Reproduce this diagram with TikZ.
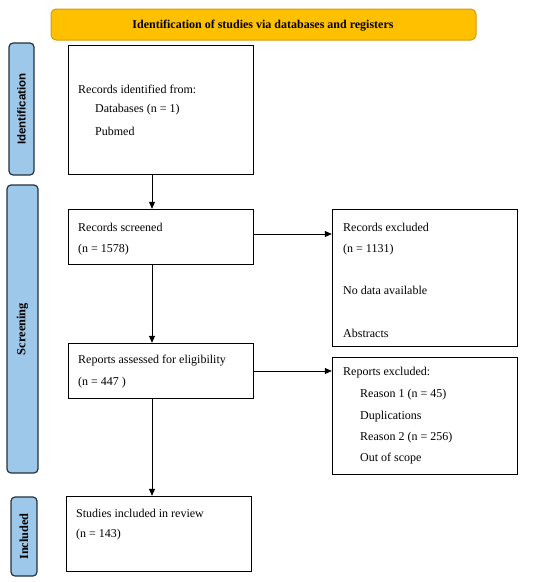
\documentclass[tikz,border=0pt]{standalone}
\usepackage{fontspec}
\setmainfont{Liberation Serif}
\newfontfamily\sidesans{Liberation Sans}
\usetikzlibrary{arrows.meta}
\definecolor{barfill}{HTML}{FFC000}
\definecolor{barline}{HTML}{D49A10}
\definecolor{sidefill}{HTML}{9DC8EA}
\definecolor{sideline}{HTML}{22313F}
\tikzset{
  x=1pt,y=-1pt,
  box/.style={draw=black,line width=1pt,fill=white},
  side/.style={draw=sideline,fill=sidefill,line width=1.2pt,rounded corners=4pt},
  flow/.style={-{Triangle[length=7pt,width=6pt]},line width=0.7pt},
  txt/.style={anchor=west,inner sep=0pt,font=\fontsize{12}{14}\selectfont},
}
\begin{document}
\begin{tikzpicture}
\useasboundingbox (0,0) rectangle (550,582);
% top bar
\draw[draw=barline,fill=barfill,line width=1pt,rounded corners=5pt] (51,9) rectangle (476,40);
\node[font=\bfseries\fontsize{12}{14}\selectfont] (title) at (263,26) {Identification of studies via databases and registers};
% side bars
\draw[side] (9,43) rectangle (34,175);
\node[rotate=90,font=\sidesans\bfseries\fontsize{11.5}{13}\selectfont] (sid) at (21.5,109) {Identification};
\draw[side] (7,185) rectangle (38,473);
\node[rotate=90,font=\bfseries\fontsize{12.4}{14}\selectfont] (sscr) at (22.5,329) {Screening};
\draw[side] (11,497) rectangle (37,576);
\node[rotate=90,font=\bfseries\fontsize{12.3}{14}\selectfont] (sinc) at (24,536.5) {Included};
% boxes
\draw[box] (68,45) rectangle (253,174);
\draw[box] (68,209) rectangle (253,264);
\draw[box] (332,209) rectangle (517,346);
\draw[box] (68,343) rectangle (253,398);
\draw[box] (332,357) rectangle (517,474);
\draw[box] (66,496) rectangle (251,571);
% nodes for box anchors
\node[inner sep=0pt,minimum width=185pt,minimum height=129pt] (b1) at (160.5,109.5) {};
\node[inner sep=0pt,minimum width=185pt,minimum height=55pt] (b2) at (160.5,236.5) {};
\node[inner sep=0pt,minimum width=185pt,minimum height=137pt] (b3) at (424.5,277.5) {};
\node[inner sep=0pt,minimum width=185pt,minimum height=55pt] (b4) at (160.5,370.5) {};
\node[inner sep=0pt,minimum width=185pt,minimum height=117pt] (b5) at (424.5,415.5) {};
\node[inner sep=0pt,minimum width=185pt,minimum height=75pt] (b6) at (158.5,533.5) {};
% texts
\node[txt] at (78,89) {Records identified from:};
\node[txt] at (95,110) {Databases (n = 1)};
\node[txt] at (95,131) {Pubmed};
\node[txt] at (78,227) {Records screened};
\node[txt] at (78,250) {(n = 1578)};
\node[txt] at (343,227) {Records excluded};
\node[txt] at (343,250) {(n = 1131)};
\node[txt] at (343,290) {No data available};
\node[txt] at (343,333) {Abstracts};
\node[txt] at (78,361) {Reports assessed for eligibility};
\node[txt] at (78,383) {(n = 447 )};
\node[txt] at (343,373) {Reports excluded:};
\node[txt] at (360,395) {Reason 1 (n = 45)};
\node[txt] at (360,417) {Duplications};
\node[txt] at (360,438) {Reason 2 (n = 256)};
\node[txt] at (360,459) {Out of scope};
\node[txt] at (76,513) {Studies included in review};
\node[txt] at (76,535) {(n = 143)};
% arrows
\draw[flow] (b1.south -| 152,0) -- (b2.north -| 152,0);
\draw[flow] (b2.south -| 152,0) -- (b4.north -| 152,0);
\draw[flow] (b4.south -| 152,0) -- (b6.north -| 152,0);
\draw[flow] (b2.east |- 0,234) -- (b3.west |- 0,234);
\draw[flow] (b4.east |- 0,371) -- (b5.west |- 0,371);
\end{tikzpicture}
\end{document}
